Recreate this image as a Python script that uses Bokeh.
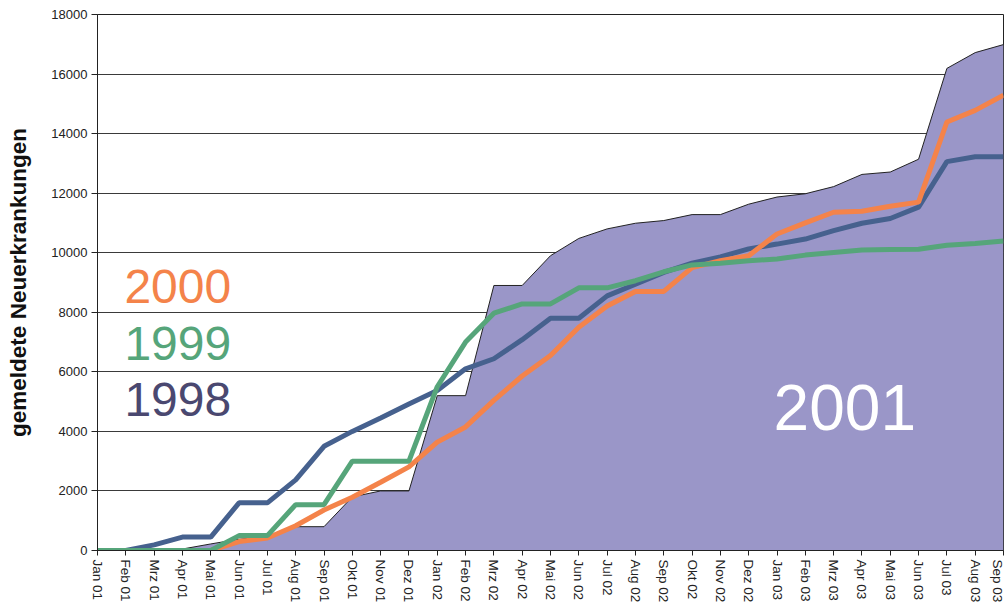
from bokeh.plotting import figure
from bokeh.models import Range1d, FixedTicker, Label
from bokeh.embed import file_html
from bokeh.resources import INLINE

months = ["Jan 01", "Feb 01", "Mrz 01", "Apr 01", "Mai 01", "Jun 01", "Jul 01", "Aug 01",
          "Sep 01", "Okt 01", "Nov 01", "Dez 01", "Jan 02", "Feb 02", "Mrz 02", "Apr 02",
          "Mai 02", "Jun 02", "Jul 02", "Aug 02", "Sep 02", "Okt 02", "Nov 02", "Dez 02",
          "Jan 03", "Feb 03", "Mrz 03", "Apr 03", "Mai 03", "Jun 03", "Jul 03", "Aug 03",
          "Sep 03"]

y2001 = [0, 0, 10, 50, 220, 380, 450, 800, 800, 1800, 2000, 2000, 5200, 5200, 8900, 8900,
         9900, 10480, 10800, 10990, 11080, 11280, 11280, 11630, 11870, 11980, 12220, 12630,
         12710, 13140, 16190, 16720, 16990]
y2000 = [0, 0, 0, 0, 0, 300, 420, 830, 1360, 1790, 2290, 2810, 3640, 4150, 5040, 5860,
         6550, 7500, 8210, 8700, 8700, 9500, 9730, 9900, 10630, 11000, 11360, 11390, 11560,
         11700, 14390, 14780, 15290]
y1999 = [0, 0, 0, 0, 0, 500, 500, 1540, 1540, 3000, 3000, 3000, 5500, 7000, 7970, 8280,
         8280, 8820, 8820, 9060, 9360, 9590, 9650, 9730, 9790, 9920, 10010, 10090, 10110,
         10120, 10250, 10310, 10390]
y1998 = [0, 0, 190, 450, 450, 1600, 1600, 2370, 3500, 4000, 4450, 4920, 5370, 6100, 6440,
         7080, 7800, 7800, 8550, 8940, 9340, 9650, 9860, 10130, 10290, 10460, 10740, 10990,
         11150, 11530, 13060, 13220, 13220]
y_ticks = [0, 2000, 4000, 6000, 8000, 10000, 12000, 14000, 16000, 18000]

x = list(range(len(months)))
FONT = "Liberation Sans"

p = figure(width=1004, height=605, output_backend="svg", toolbar_location=None,
           x_range=Range1d(0, len(months) - 1), y_range=Range1d(0, 18000),
           min_border_left=97, min_border_top=14, min_border_right=1, min_border_bottom=55)

p.background_fill_color = "white"
p.border_fill_color = "white"
p.outline_line_color = "#222222"
p.outline_line_width = 1

# 2001 area
p.varea(x=x, y1=[0] * len(x), y2=y2001, fill_color="#9A96C8")
p.line(x, y2001, line_color="#222222", line_width=1)

# lines
p.line(x, y1998, line_color="#46618E", line_width=5)
p.line(x, y2000, line_color="#F4834A", line_width=5)
p.line(x, y1999, line_color="#56A57A", line_width=5)

# axes
p.xgrid.visible = False
p.ygrid.grid_line_color = "#3a3a3a"
p.ygrid.grid_line_width = 1
p.ygrid.level = "underlay"

p.yaxis.ticker = FixedTicker(ticks=y_ticks)
p.yaxis.minor_tick_line_color = None
p.yaxis.major_tick_out = 6
p.yaxis.major_tick_in = 0
p.yaxis.major_label_standoff = 4
p.yaxis.major_label_text_font = FONT
p.yaxis.major_label_text_font_size = "13px"
p.yaxis.major_label_text_color = "#222222"
p.yaxis.axis_line_color = "#222222"
p.yaxis.major_tick_line_color = "#222222"
p.yaxis.axis_label = "gemeldete Neuerkrankungen"
p.yaxis.axis_label_text_font = FONT
p.yaxis.axis_label_text_font_style = "bold"
p.yaxis.axis_label_text_font_size = "22.5px"
p.yaxis.axis_label_text_color = "#111111"
p.yaxis.axis_label_standoff = 17

p.xaxis.ticker = FixedTicker(ticks=x)
p.xaxis.major_label_overrides = {i: m for i, m in enumerate(months)}
p.xaxis.major_label_orientation = "vertical"
p.xaxis.minor_tick_line_color = None
p.xaxis.major_tick_out = 5
p.xaxis.major_tick_in = 0
p.xaxis.major_label_standoff = 4
p.xaxis.major_label_text_font = FONT
p.xaxis.major_label_text_font_size = "13.5px"
p.xaxis.major_label_text_color = "#222222"
p.xaxis.axis_line_color = "#222222"
p.xaxis.major_tick_line_color = "#222222"

# series labels
for txt, yv, col in [("2000", 8850, "#F4834A"), ("1999", 6960, "#56A57A"), ("1998", 5080, "#4A4870")]:
    p.add_layout(Label(x=0.95, y=yv, text=txt, text_font=FONT, text_font_size="48px",
                       text_color=col, text_baseline="alphabetic", text_align="left"))
p.add_layout(Label(x=23.88, y=4800, text="2001", text_font=FONT, text_font_size="64px",
                   text_color="white", text_baseline="alphabetic", text_align="left"))

open("out.html", "w").write(file_html(p, INLINE))
